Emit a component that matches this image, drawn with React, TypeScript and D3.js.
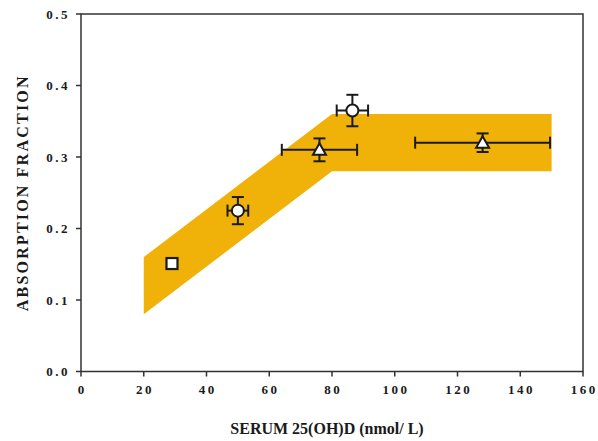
import React from "react";
import * as d3 from "d3";

const WIDTH = 598;
const HEIGHT = 441;
const M = { left: 81, right: 15, top: 14, bottom: 69.5 };

const X_TICKS = [0, 20, 40, 60, 80, 100, 120, 140, 160];
const Y_TICKS = [0, 0.1, 0.2, 0.3, 0.4, 0.5];

// shaded band (upper / lower edge)
const bandX = [20, 80, 150];
const bandUpper = [0.16, 0.36, 0.36];
const bandLower = [0.08, 0.28, 0.28];

// measured groups
const pointX = [29, 50, 76, 86.5, 128];
const pointY = [0.151, 0.225, 0.31, 0.365, 0.32];
const xErr = [0, 3.3, 12, 5, 21.5];
const yErr = [0, 0.019, 0.016, 0.022, 0.013];
const shapes = ["square", "circle", "triangle", "circle", "triangle"];

const BAND = "#F0B208";
const INK = "#1a1a1a";

export default function App() {
  const x = d3.scaleLinear().domain([0, 160]).range([M.left, WIDTH - M.right]);
  const y = d3.scaleLinear().domain([0, 0.5]).range([HEIGHT - M.bottom, M.top]);

  const band = bandX.map((v, i) => ({ x: v, hi: bandUpper[i], lo: bandLower[i] }));
  const area = d3
    .area<{ x: number; hi: number; lo: number }>()
    .x((d) => x(d.x))
    .y0((d) => y(d.lo))
    .y1((d) => y(d.hi));

  const pts = pointX.map((v, i) => ({
    x: v,
    y: pointY[i],
    xe: xErr[i],
    ye: yErr[i],
    shape: shapes[i],
  }));

  const x0 = x(0);
  const x1 = x(160);
  const y0 = y(0);
  const y1 = y(0.5);
  const cap = 6;

  const font = "'Liberation Serif', 'Times New Roman', serif";

  return (
    <svg
      width={WIDTH}
      height={HEIGHT}
      style={{ position: "absolute", left: 0, top: 0, background: "#fff" }}
      fontFamily={font}
    >
      <path d={area(band) ?? ""} fill={BAND} />

      {/* frame */}
      <path
        d={`M${x0},${y0}H${x1}V${y1}H${x0}Z`}
        fill="none"
        stroke="#333"
        strokeWidth={1.5}
      />

      {Y_TICKS.map((t) => (
        <g key={`y${t}`}>
          <line x1={x0 - 5} x2={x0} y1={y(t)} y2={y(t)} stroke="#333" strokeWidth={1.5} />
          <text
            x={x0 - 11}
            y={y(t)}
            dy="0.35em"
            textAnchor="end"
            fontSize={13}
            fontWeight="bold"
            letterSpacing={2.5}
            fill={INK}
          >
            {t.toFixed(1)}
          </text>
        </g>
      ))}

      {X_TICKS.map((t) => (
        <g key={`x${t}`}>
          <line x1={x(t)} x2={x(t)} y1={y0} y2={y0 + 5} stroke="#333" strokeWidth={1.5} />
          <text
            x={x(t) + 1.25}
            y={394}
            textAnchor="middle"
            fontSize={13}
            fontWeight="bold"
            letterSpacing={2.5}
            fill={INK}
          >
            {t}
          </text>
        </g>
      ))}

      <text
        x={(x0 + x1) / 2 - 5}
        y={434}
        textAnchor="middle"
        fontSize={16}
        fontWeight="bold"
        fill={INK}
      >
        SERUM 25(OH)D (nmol/ L)
      </text>

      <text
        transform={`translate(28, ${(y0 + y1) / 2}) rotate(-90)`}
        textAnchor="middle"
        fontSize={16}
        fontWeight="bold"
        letterSpacing={2.2}
        fill={INK}
      >
        ABSORPTION FRACTION
      </text>

      {pts.map((d, i) => {
        const cx = x(d.x);
        const cy = y(d.y);
        return (
          <g key={`e${i}`} stroke={INK} strokeWidth={2}>
            {d.xe > 0 && (
              <>
                <line x1={x(d.x - d.xe)} x2={x(d.x + d.xe)} y1={cy} y2={cy} />
                <line x1={x(d.x - d.xe)} x2={x(d.x - d.xe)} y1={cy - cap} y2={cy + cap} />
                <line x1={x(d.x + d.xe)} x2={x(d.x + d.xe)} y1={cy - cap} y2={cy + cap} />
              </>
            )}
            {d.ye > 0 && (
              <>
                <line x1={cx} x2={cx} y1={y(d.y - d.ye)} y2={y(d.y + d.ye)} />
                <line x1={cx - cap} x2={cx + cap} y1={y(d.y - d.ye)} y2={y(d.y - d.ye)} />
                <line x1={cx - cap} x2={cx + cap} y1={y(d.y + d.ye)} y2={y(d.y + d.ye)} />
              </>
            )}
          </g>
        );
      })}

      {pts.map((d, i) => {
        const cx = x(d.x);
        const cy = y(d.y);
        if (d.shape === "circle")
          return <circle key={`m${i}`} cx={cx} cy={cy} r={6} fill="#fff" stroke={INK} strokeWidth={2} />;
        if (d.shape === "square")
          return (
            <rect key={`m${i}`} x={cx - 5.5} y={cy - 5.5} width={11} height={11} fill="#fff" stroke={INK} strokeWidth={2.2} />
          );
        return (
          <path
            key={`m${i}`}
            d={`M${cx},${cy - 6.5}L${cx + 6.5},${cy + 5}L${cx - 6.5},${cy + 5}Z`}
            fill="#fff"
            stroke={INK}
            strokeWidth={2}
            strokeLinejoin="miter"
          />
        );
      })}
    </svg>
  );
}
